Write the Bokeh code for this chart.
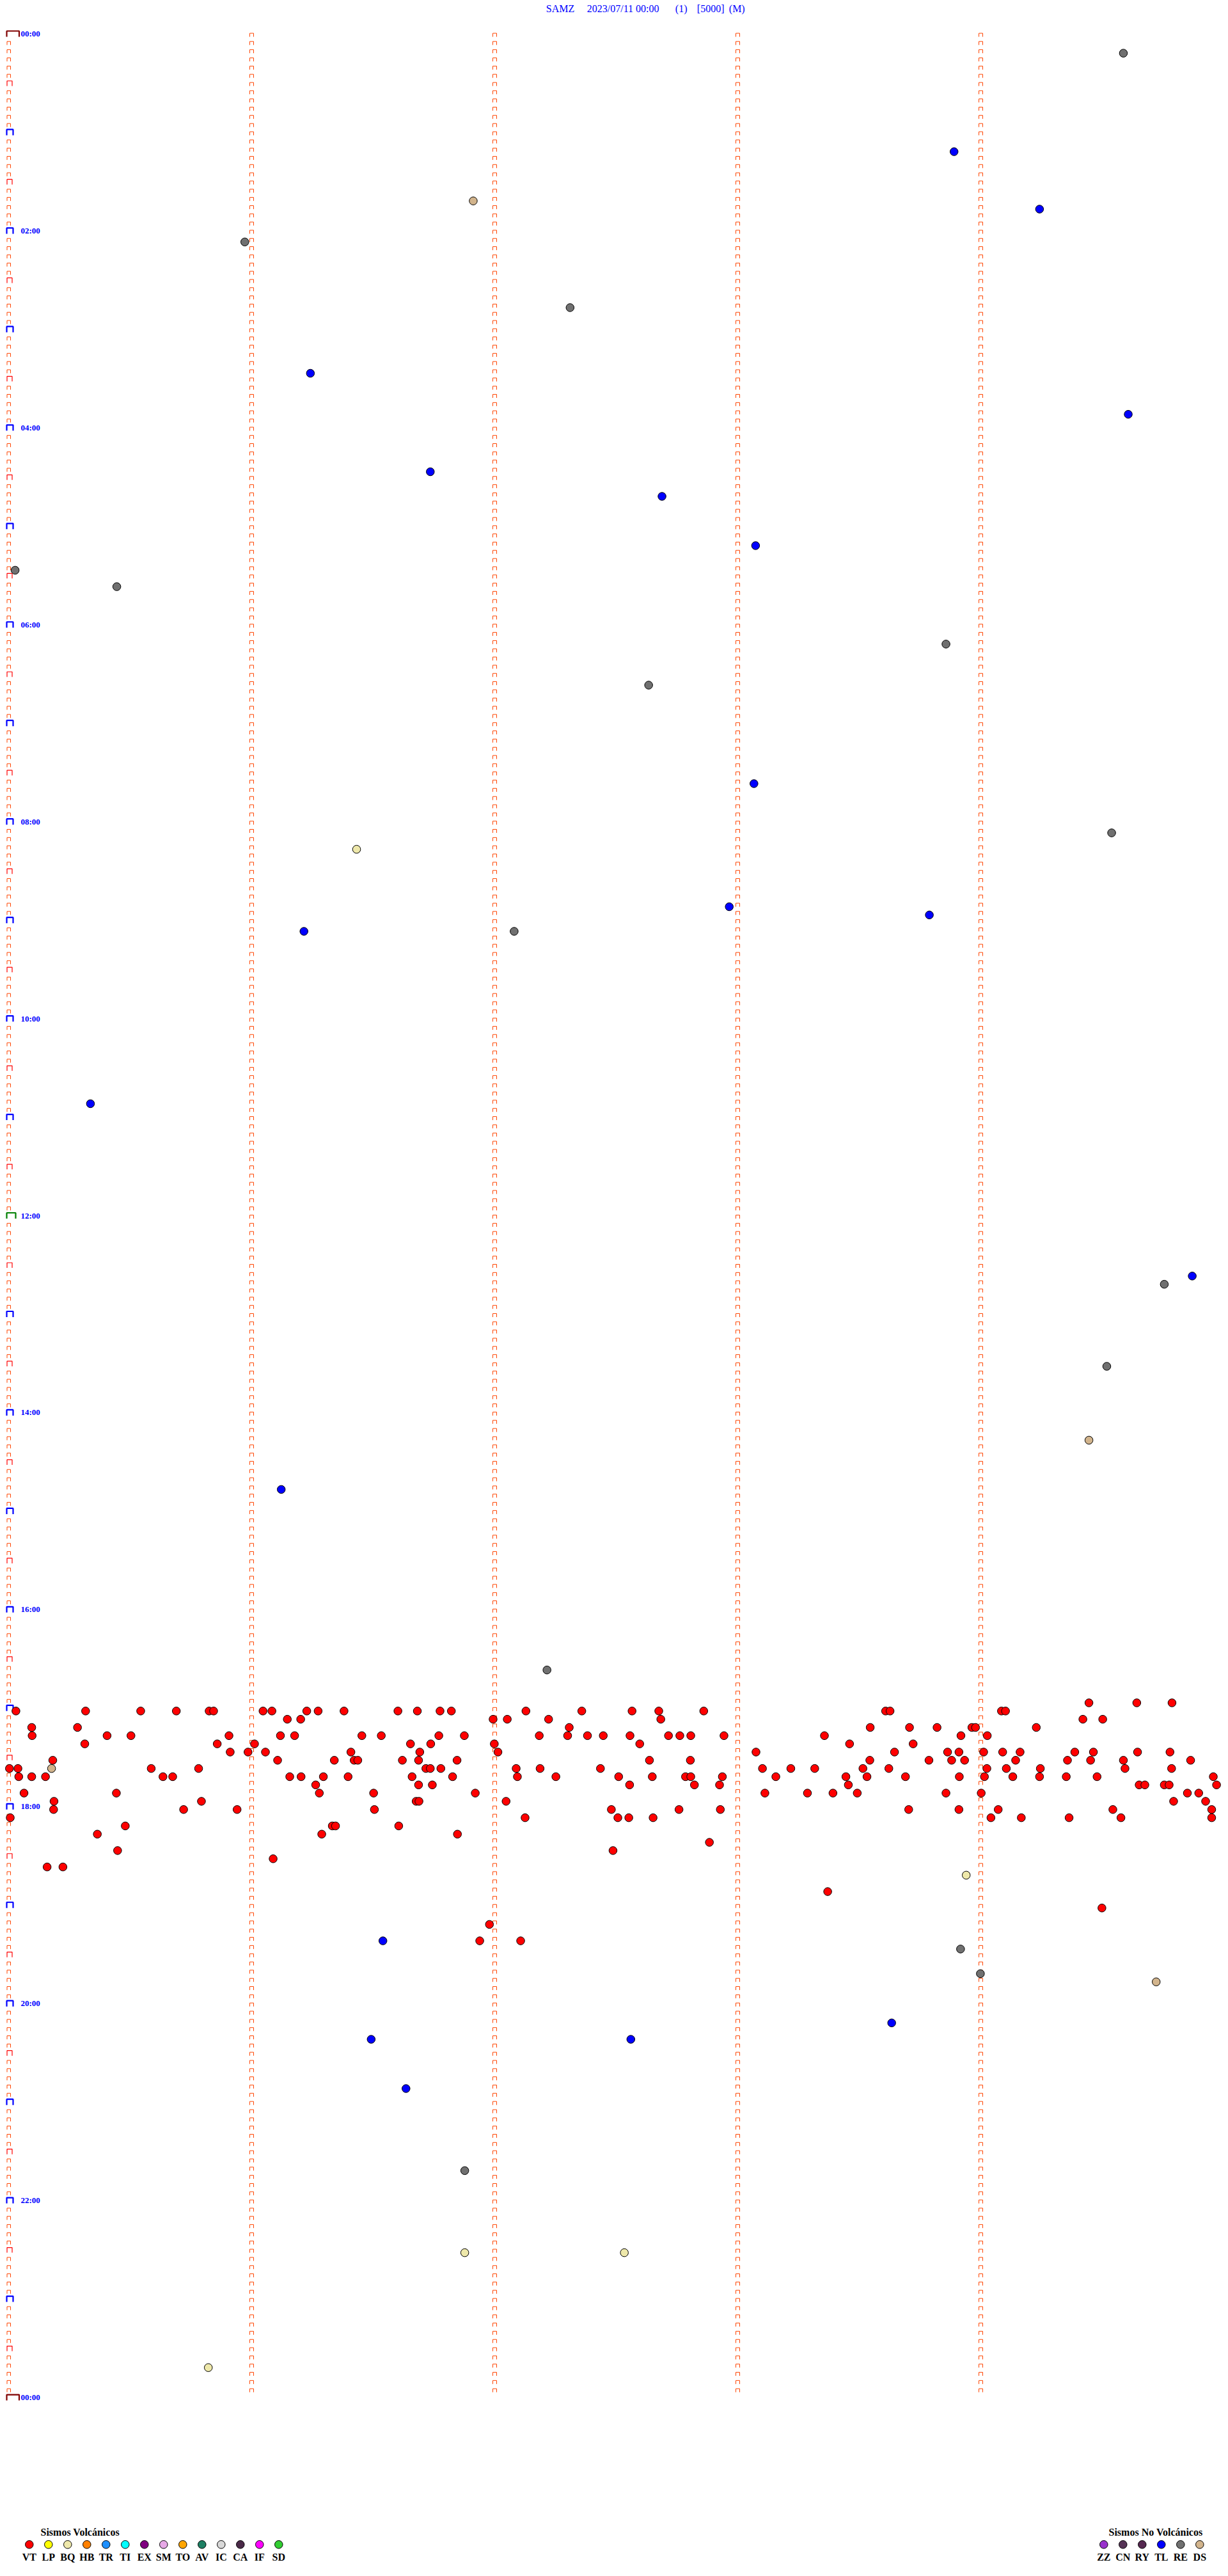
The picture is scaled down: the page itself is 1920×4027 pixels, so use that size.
from bokeh.plotting import figure
from bokeh.models import Range1d
from bokeh.core.properties import value
from bokeh.embed import file_html
from bokeh.resources import INLINE

# ---------------- data ----------------
title_parts = ["SAMZ", "2023/07/11 00:00", "(1)", "[5000]", "(M)"]
hour_labels = ["00:00", "02:00", "04:00", "06:00", "08:00", "10:00", "12:00",
               "14:00", "16:00", "18:00", "20:00", "22:00", "00:00"]

vt_times = [
    "16:59:26.7", "16:59:38.5", "16:59:47.2",
    "17:00:01.8", "17:00:19.0", "17:00:32.6", "17:00:41.4", "17:00:49.5", "17:00:50.6", "17:01:02.8",
    "17:01:05.0", "17:01:13.6", "17:01:16.4", "17:01:22.8", "17:01:36.1", "17:01:40.9", "17:01:46.5",
    "17:01:49.3", "17:02:07.7", "17:02:21.5", "17:02:33.9", "17:02:40.5", "17:02:51.6", "17:03:36.5",
    "17:03:37.6", "17:04:05.1", "17:04:06.1",
    "17:06:08.8", "17:06:12.1", "17:06:59.6", "17:07:03.1", "17:07:13.3", "17:07:41.0", "17:09:25.2",
    "17:09:30.1",
    "17:10:05.7", "17:10:17.0", "17:12:18.4", "17:13:32.7", "17:13:42.4", "17:13:49.2", "17:13:57.8",
    "17:13:58.7", "17:14:13.7",
    "17:15:05.8", "17:15:24.3", "17:15:30.2", "17:15:54.4", "17:16:07.1", "17:16:10.6", "17:16:27.2",
    "17:16:32.0", "17:16:46.2", "17:16:52.5", "17:17:11.0", "17:17:18.0", "17:17:22.9", "17:17:26.8",
    "17:17:33.4", "17:17:42.9", "17:17:45.7", "17:17:48.4", "17:17:56.6", "17:18:21.4", "17:18:55.1",
    "17:19:01.6",
    "17:20:18.8", "17:20:51.5", "17:21:00.7", "17:21:39.2", "17:21:44.2", "17:21:59.9", "17:22:35.8",
    "17:23:27.6", "17:23:43.3",
    "17:25:54.7", "17:25:59.1", "17:26:03.4", "17:26:24.5", "17:26:41.5", "17:27:00.8", "17:28:04.5",
    "17:28:38.7", "17:28:51.8", "17:28:54.6", "17:29:00.7", "17:29:05.4", "17:29:09.7", "17:29:23.2",
    "17:29:27.8", "17:29:38.7", "17:29:46.7",
    "17:30:10.9", "17:31:06.4", "17:31:20.4", "17:31:25.3", "17:31:26.2", "17:31:37.2", "17:31:41.2",
    "17:31:50.7", "17:32:38.2", "17:32:48.3", "17:33:32.6", "17:33:47.2", "17:33:52.8", "17:33:56.0",
    "17:34:08.6", "17:34:21.4", "17:34:27.1", "17:34:35.2", "17:34:51.8",
    "17:35:00.2", "17:35:02.3", "17:35:35.2", "17:35:46.9", "17:36:43.0", "17:36:44.1", "17:36:46.7",
    "17:37:05.3", "17:37:11.2", "17:37:26.1", "17:38:06.1", "17:38:13.1", "17:38:19.0", "17:38:30.9",
    "17:38:37.3", "17:39:01.5", "17:39:06.3", "17:39:14.7", "17:39:35.6", "17:39:47.1",
    "17:40:02.5", "17:40:05.7", "17:40:09.1", "17:40:38.1", "17:40:40.5", "17:41:09.4", "17:41:12.2",
    "17:41:17.7", "17:41:23.8", "17:41:39.6", "17:41:49.6", "17:42:05.6", "17:42:15.1", "17:42:30.6",
    "17:42:38.9", "17:42:47.1", "17:42:48.4", "17:42:56.2", "17:43:09.4", "17:43:26.7", "17:43:31.9",
    "17:43:41.4", "17:43:54.7", "17:44:00.9", "17:44:07.9", "17:44:14.5", "17:44:21.1", "17:44:28.7",
    "17:44:57.4",
    "17:46:15.8", "17:46:41.2", "17:46:44.6", "17:47:33.3", "17:47:49.3", "17:47:55.5", "17:48:27.3",
    "17:49:39.1", "17:49:40.5", "17:49:45.3", "17:49:46.5", "17:49:58.2",
    "17:50:03.8", "17:50:26.6", "17:51:16.7", "17:51:30.1", "17:51:55.2", "17:53:06.7", "17:53:17.2",
    "17:53:23.5", "17:53:29.5", "17:53:51.4", "17:54:00.1", "17:54:51.0", "17:54:53.8",
    "17:55:11.2", "17:55:47.6", "17:56:40.6", "17:56:41.3", "17:57:02.8", "17:59:47.6", "17:59:55.5",
    "18:00:11.1", "18:00:43.2", "18:00:56.4", "18:01:30.3", "18:02:28.8", "18:02:45.5", "18:02:55.7",
    "18:03:42.2", "18:03:54.6", "18:04:04.3", "18:04:32.6", "18:04:57.0",
    "18:05:00.4", "18:07:07.5", "18:07:30.4", "18:07:33.1", "18:07:39.1", "18:09:02.5", "18:09:10.0",
    "18:09:21.8", "18:09:34.6", "18:09:57.0",
    "18:10:28.8", "18:11:19.9", "18:11:20.7", "18:11:36.3",
    "18:15:21.9", "18:16:17.3", "18:16:50.8",
    "18:22:53.0",
    "18:25:26.9", "18:27:29.2",
    "18:31:05.3",
    "18:35:09.5", "18:35:13.4",
    "18:53:22.2", "19:04:29.9", "19:11:58.7", "19:21:56.3", "19:22:06.4",
]
bq_times = ["08:16:25.9", "18:43:56.4", "22:31:52.6", "22:32:32.0", "23:40:49.3"]
ds_times = ["01:41:54.7", "14:19:26.7", "17:35:10.6", "19:49:43.3"]
tl_times = ["01:13:53.4", "01:49:14.5", "03:26:14.5", "03:54:36.4", "04:26:44.1", "04:42:41.3",
            "05:13:04.4", "07:38:04.0", "08:52:57.9", "08:58:47.3", "09:06:12.9", "10:50:20.2",
            "12:39:52.2", "14:46:07.3", "19:21:32.4", "20:13:38.0", "20:21:29.5", "20:22:33.6",
            "20:51:38.1"]
re_times = ["00:14:35.2", "02:05:58.3", "02:47:18.6", "05:25:01.6", "05:35:26.7", "06:13:51.4",
            "06:37:38.0", "08:09:32.3", "09:07:04.8", "12:44:45.3", "13:34:31.1", "16:37:12.9",
            "19:28:55.0", "19:43:59.9", "21:41:52.6"]

volc_codes = ["VT", "LP", "BQ", "HB", "TR", "TI", "EX", "SM", "TO", "AV", "IC", "CA", "IF", "SD"]
volc_colors = ["#FF0000", "#FFFF00", "#EEE8AA", "#FF8000", "#1E90FF", "#00FFFF", "#800080",
               "#E6A8E6", "#FFA500", "#1E8064", "#D8D8D8", "#4A2A48", "#FF00FF", "#32CD32"]
novolc_codes = ["ZZ", "CN", "RY", "TL", "RE", "DS"]
novolc_colors = ["#9932CC", "#553355", "#552850", "#0000FF", "#707070", "#D2B48C"]

# ---------------- layout constants (pixels of the page) ----------------
LINE_SECONDS = 300          # one helicorder line = 5 minutes
PX_PER_SEC = 380.0 / 60.0
PX_PER_ROW = 153.96 / 12.0
X0_PX, Y0_PX = 13.0, 57.0
PAGE_L, PAGE_T = 0, 0
W, H = 1920, 4027


def X(px):
    return (px - X0_PX) / PX_PER_SEC


def Y(py):
    return (py - Y0_PX) / PX_PER_ROW


def dx(px):
    return px / PX_PER_SEC


def dy(px):
    return px / PX_PER_ROW


def to_xy(times):
    xs, ys = [], []
    for t in times:
        h, m, s = t.split(":")
        tot = int(h) * 3600 + int(m) * 60 + float(s)
        row = int(tot // LINE_SECONDS)
        xs.append(tot - row * LINE_SECONDS)
        ys.append(row)
    return xs, ys


p = figure(width=W, height=H, output_backend="svg", toolbar_location=None,
           x_range=Range1d(X(PAGE_L), X(PAGE_L + W)),
           y_range=Range1d(Y(PAGE_T + H), Y(PAGE_T)),
           x_axis_location=None, y_axis_location=None,
           min_border=0, min_border_left=0, min_border_right=0,
           min_border_top=0, min_border_bottom=0)
p.grid.visible = False
p.outline_line_color = None
p.background_fill_color = "white"
p.border_fill_color = "white"

# ---------------- minute tick marks ----------------
n_rows = 24 * 3600 // LINE_SECONDS  # 288


def cap(xc_left, width_px, row, h_px):
    x1 = xc_left
    x2 = xc_left + dx(width_px)
    yb = row
    yt = row - dy(h_px)
    return [x1, x1, x2, x2], [yb, yt, yt, yb]


groups = {"small": ([], []), "half": ([], []), "hour": ([], []), "noon": ([], []), "day": ([], [])}
for col in range(1, 5):
    xc = col * 60
    for r in range(n_rows):
        a, b = cap(xc - dx(3), 6, r, 5.5)
        groups["small"][0].append(a)
        groups["small"][1].append(b)
for r in range(n_rows + 1):
    if r % 12 == 0:
        if r % n_rows == 0:
            a, b = cap(X(10), 19.5, r, 9)
            key = "day"
        elif r == n_rows // 2:
            a, b = cap(X(10), 14, r, 9)
            key = "noon"
        else:
            a, b = cap(X(10), 10, r, 9)
            key = "hour"
    elif r % 6 == 0:
        a, b = cap(X(10.5), 8, r, 8)
        key = "half"
    else:
        a, b = cap(X(10.5), 5.5, r, 5.5)
        key = "small"
    groups[key][0].append(a)
    groups[key][1].append(b)

styles = {"small": ("#FF4500", 1), "half": ("#FF0000", 1.2), "hour": ("#0000FF", 2.2),
          "noon": ("#008000", 2.2), "day": ("#800000", 2.2)}
for key, (xs, ys) in groups.items():
    col, lw = styles[key]
    p.multi_line(xs=xs, ys=ys, line_color=col, line_width=lw)

# hour labels
lab_rows = [i * 24 for i in range(len(hour_labels))]
p.text(x=[X(32)] * len(lab_rows), y=[r - dy(5) for r in lab_rows], text=hour_labels,
       text_font=value("Liberation Serif"), text_font_style="bold", text_font_size="13px",
       text_color="#0000FF", text_baseline="middle", text_align="left")

# ---------------- events ----------------
for times, color in [(re_times, "#707070"), (tl_times, "#0000FF"), (ds_times, "#D2B48C"),
                     (bq_times, "#EEE8AA"), (vt_times, "#FF0000")]:
    xs, ys = to_xy(times)
    p.scatter(x=xs, y=ys, size=12.5, fill_color=color, line_color="black", line_width=1)

# ---------------- title ----------------
title_x = [853.3, 917.3, 1055.3, 1089.3, 1139.3]
p.text(x=[X(v) for v in title_x], y=[Y(13)] * len(title_parts), text=title_parts,
       text_font=value("Liberation Serif"), text_font_size="16px",
       text_color="#0000FF", text_baseline="middle", text_align="left")

# ---------------- legends ----------------
def legend(title, codes, colors, x_first, title_x):
    mx = [X(x_first + 30 * i) for i in range(len(codes))]
    p.text(x=[X(title_x)], y=[Y(3957.5)], text=[title],
           text_font=value("Liberation Serif"), text_font_style="bold", text_font_size="16px",
           text_color="black", text_baseline="middle", text_align="left")
    p.scatter(x=mx, y=[Y(3977.3)] * len(codes), size=12.5, fill_color=colors,
              line_color="black", line_width=1)
    p.text(x=mx, y=[Y(3997)] * len(codes), text=codes,
           text_font=value("Liberation Serif"), text_font_style="bold", text_font_size="16px",
           text_color="black", text_baseline="middle", text_align="center")


legend("Sismos Volcánicos", volc_codes, volc_colors, 45.3, 63)
legend("Sismos No Volcánicos", novolc_codes, novolc_colors, 1725.3, 1733)

open("out.html", "w").write(file_html(p, INLINE))
